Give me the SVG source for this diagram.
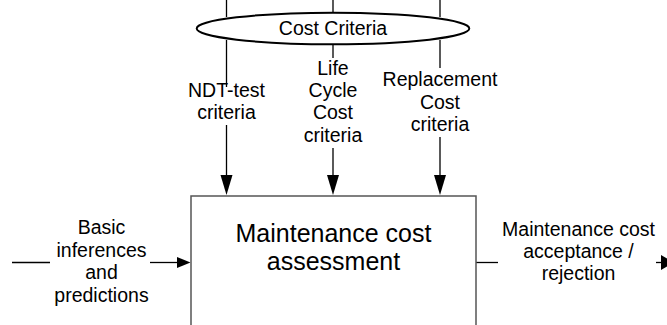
<svg xmlns="http://www.w3.org/2000/svg" width="667" height="325" viewBox="0 0 667 325">
<style>
text { font-family: "Liberation Sans", Arial, sans-serif; fill: #000; text-anchor: middle; }
.lbl { font-size: 19.5px; }
.main { font-size: 25px; }
.ln { stroke: #000; stroke-width: 1.3; fill: none; }
.head { fill: #000; }
</style>
<rect x="0" y="0" width="667" height="325" fill="#fff"/>
<g id="connectors">
  <line class="ln" x1="226.5" y1="0" x2="226.5" y2="17"/>
  <line class="ln" x1="333" y1="0" x2="333" y2="13"/>
  <line class="ln" x1="440" y1="0" x2="440" y2="17"/>
  <line class="ln" x1="226.5" y1="40" x2="226.5" y2="87"/>
  <line class="ln" x1="333" y1="44" x2="333" y2="58"/>
  <line class="ln" x1="440" y1="40" x2="440" y2="68"/>
  <line class="ln" x1="226.5" y1="125" x2="226.5" y2="176"/>
  <polygon class="head" points="220.5,175 232.5,175 226.5,195"/>
  <line class="ln" x1="333" y1="148" x2="333" y2="176"/>
  <polygon class="head" points="327,175 339,175 333,195"/>
  <line class="ln" x1="440" y1="137" x2="440" y2="176"/>
  <polygon class="head" points="434,175 446,175 440,195"/>
  <line class="ln" x1="12" y1="262.5" x2="50" y2="262.5"/>
  <line class="ln" x1="150" y1="262.5" x2="178" y2="262.5"/>
  <polygon class="head" points="177,257 177,268 190.5,262.5"/>
  <line class="ln" x1="476" y1="262.5" x2="498" y2="262.5"/>
  <line class="ln" x1="656" y1="262.5" x2="662" y2="262.5"/>
  <polygon class="head" points="661,255 661,270 674,262.5"/>
</g>
<g id="cost-criteria">
  <ellipse cx="333" cy="28.5" rx="136.3" ry="15.8" fill="#fff" stroke="#000" stroke-width="2"/>
  <text class="lbl" x="333" y="35">Cost Criteria</text>
</g>
<g id="ndt-label">
  <text class="lbl" x="226.5" y="96.7">NDT-test</text>
  <text class="lbl" x="226.5" y="118.5">criteria</text>
</g>
<g id="lcc-label">
  <text class="lbl" x="333" y="75">Life</text>
  <text class="lbl" x="333" y="97">Cycle</text>
  <text class="lbl" x="333" y="119">Cost</text>
  <text class="lbl" x="333" y="141.5">criteria</text>
</g>
<g id="replacement-label">
  <text class="lbl" x="440" y="86">Replacement</text>
  <text class="lbl" x="440" y="109">Cost</text>
  <text class="lbl" x="440" y="131">criteria</text>
</g>
<g id="assessment">
  <rect x="191" y="196" width="285" height="140" fill="none" stroke="#555" stroke-width="1.5"/>
  <text class="main" x="333.5" y="241.7">Maintenance cost</text>
  <text class="main" x="333.5" y="270">assessment</text>
</g>
<g id="input-label">
  <text class="lbl" x="101.5" y="234">Basic</text>
  <text class="lbl" x="101.5" y="256.7">inferences</text>
  <text class="lbl" x="101.5" y="279.4">and</text>
  <text class="lbl" x="101.5" y="302">predictions</text>
</g>
<g id="output-label">
  <text class="lbl" x="578.5" y="236">Maintenance cost</text>
  <text class="lbl" x="578.5" y="258">acceptance /</text>
  <text class="lbl" x="578.5" y="280">rejection</text>
</g>
</svg>
